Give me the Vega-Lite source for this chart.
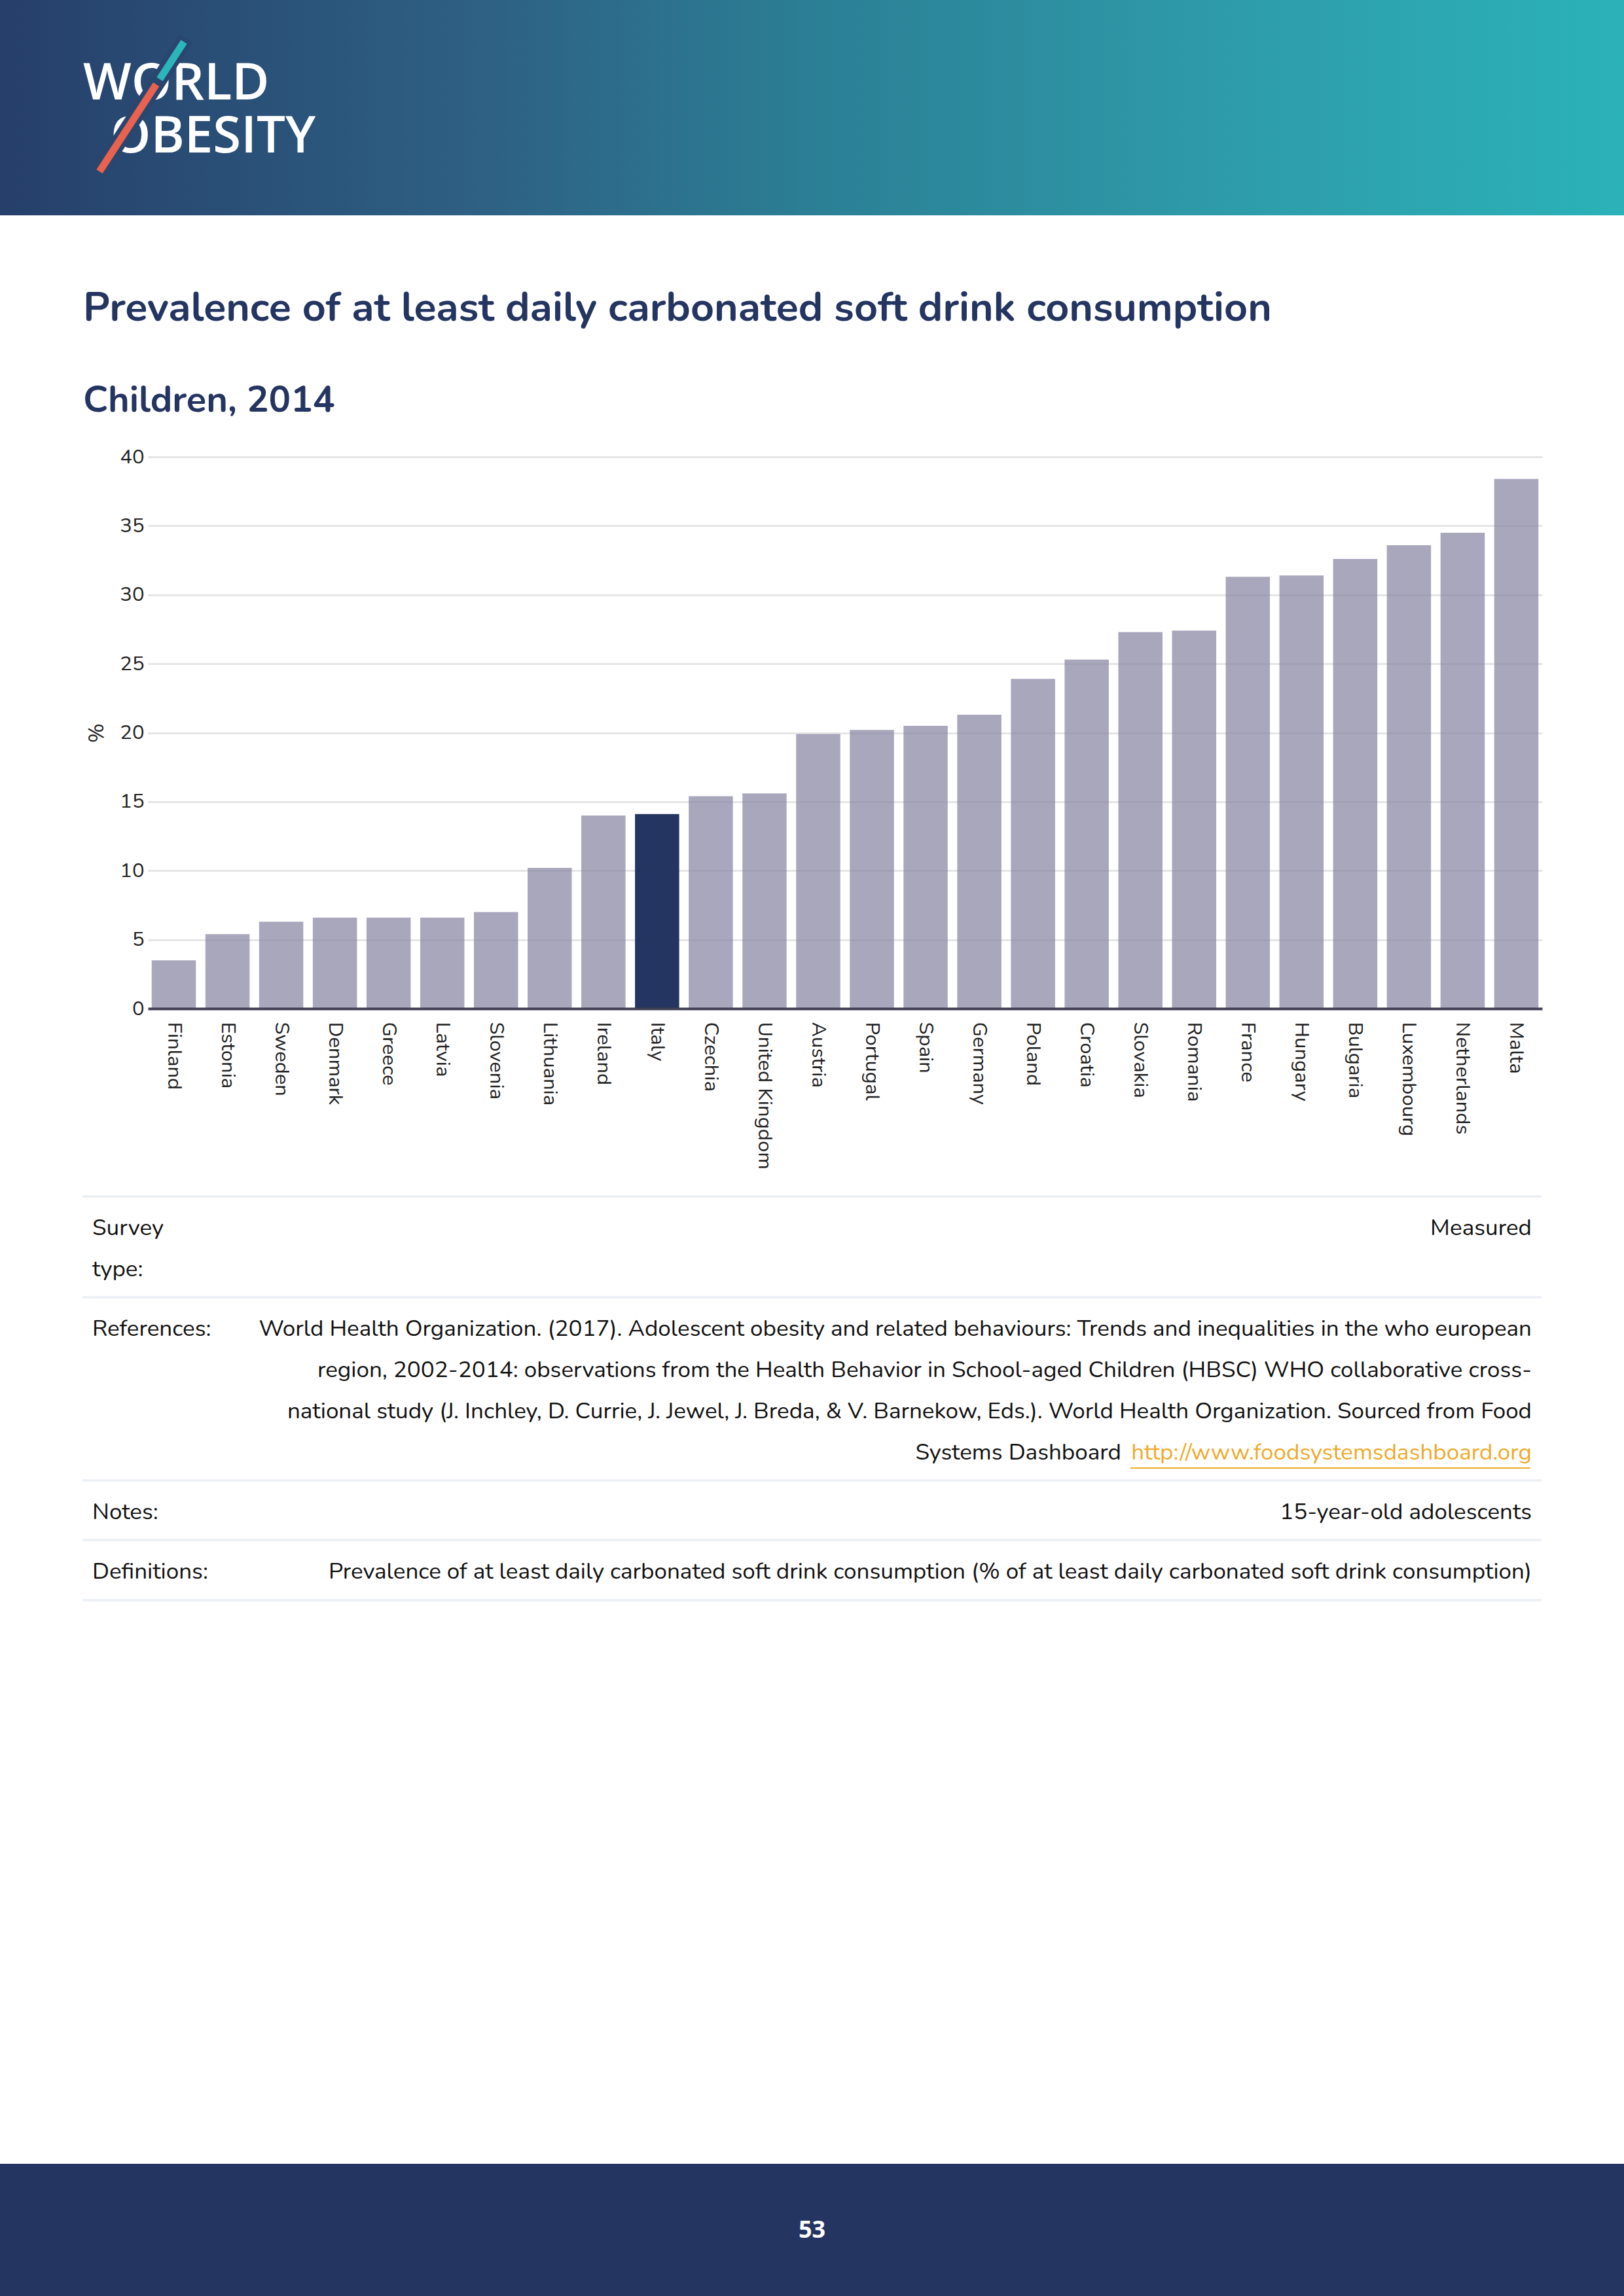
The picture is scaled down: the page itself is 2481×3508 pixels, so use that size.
{
  "$schema": "https://vega.github.io/schema/vega-lite/v6.json",
  "padding": 0,
  "background": "white",
  "spacing": 0,
  "datasets": {
    "bars": [
      {"country": "Finland", "value": 3.5},
      {"country": "Estonia", "value": 5.4},
      {"country": "Sweden", "value": 6.3},
      {"country": "Denmark", "value": 6.6},
      {"country": "Greece", "value": 6.6},
      {"country": "Latvia", "value": 6.6},
      {"country": "Slovenia", "value": 7.0},
      {"country": "Lithuania", "value": 10.2},
      {"country": "Ireland", "value": 14.0},
      {"country": "Italy", "value": 14.1},
      {"country": "Czechia", "value": 15.4},
      {"country": "United Kingdom", "value": 15.6},
      {"country": "Austria", "value": 19.9},
      {"country": "Portugal", "value": 20.2},
      {"country": "Spain", "value": 20.5},
      {"country": "Germany", "value": 21.3},
      {"country": "Poland", "value": 23.9},
      {"country": "Croatia", "value": 25.3},
      {"country": "Slovakia", "value": 27.3},
      {"country": "Romania", "value": 27.4},
      {"country": "France", "value": 31.3},
      {"country": "Hungary", "value": 31.4},
      {"country": "Bulgaria", "value": 32.6},
      {"country": "Luxembourg", "value": 33.6},
      {"country": "Netherlands", "value": 34.5},
      {"country": "Malta", "value": 38.4}
    ],
    "notes": [
      {"section": "survey", "label": ["Survey", "type:"], "value": "Measured"},
      {"section": "refs", "label": "References:", "value": [
        "World Health Organization. (2017). Adolescent obesity and related behaviours: Trends and inequalities in the who european",
        "region, 2002-2014: observations from the Health Behavior in School-aged Children (HBSC) WHO collaborative cross-",
        "national study (J. Inchley, D. Currie, J. Jewel, J. Breda, & V. Barnekow, Eds.). World Health Organization. Sourced from Food"
      ], "prefix": "Systems Dashboard", "link": "http://www.foodsystemsdashboard.org"},
      {"section": "notes", "label": "Notes:", "value": "15-year-old adolescents"},
      {"section": "defs", "label": "Definitions:", "value": "Prevalence of at least daily carbonated soft drink consumption (% of at least daily carbonated soft drink consumption)"}
    ],
    "page": [{"page": "53"}],
    "blank": [{}]
  },
  "vconcat": [
    {
      "width": 2481,
      "height": 329,
      "data": {"name": "blank"},
      "layer": [
        {
          "mark": {"type": "rect", "fill": {"gradient": "linear", "x1": 0, "y1": 0, "x2": 1, "y2": 0, "stops": [
            {"offset": 0, "color": "#263f6b"},
            {"offset": 0.3, "color": "#2e6184"},
            {"offset": 0.5, "color": "#2b7f95"},
            {"offset": 0.75, "color": "#2e9ba9"},
            {"offset": 1, "color": "#2bb2b8"}
          ]}},
          "encoding": {}
        },
        {
          "mark": {"type": "text", "text": "WORLD", "font": "Open Sans", "fontWeight": 600, "fontSize": 78, "color": "white", "align": "left", "baseline": "alphabetic"},
          "encoding": {
            "x": {"datum": 127, "type": "quantitative", "scale": {"domain": [0, 2481], "nice": false, "zero": false}, "axis": null},
            "y": {"datum": 152, "type": "quantitative", "scale": {"domain": [0, 329], "nice": false, "zero": false, "reverse": true}, "axis": null}
          }
        },
        {
          "mark": {"type": "text", "text": "OBESITY", "font": "Open Sans", "fontWeight": 600, "fontSize": 78, "color": "white", "align": "left", "baseline": "alphabetic"},
          "encoding": {
            "x": {"datum": 169, "type": "quantitative"},
            "y": {"datum": 233, "type": "quantitative"}
          }
        },
        {
          "mark": {"type": "rule", "stroke": "#29466f", "strokeWidth": 24},
          "encoding": {
            "x": {"datum": 284, "type": "quantitative"},
            "y": {"datum": 59, "type": "quantitative"},
            "x2": {"datum": 149},
            "y2": {"datum": 267}
          }
        },
        {
          "mark": {"type": "rule", "stroke": "#2cb6ba", "strokeWidth": 11},
          "encoding": {
            "x": {"datum": 281, "type": "quantitative"},
            "y": {"datum": 64, "type": "quantitative"},
            "x2": {"datum": 244},
            "y2": {"datum": 121}
          }
        },
        {
          "mark": {"type": "rule", "stroke": "#e8624f", "strokeWidth": 11},
          "encoding": {
            "x": {"datum": 238.6, "type": "quantitative"},
            "y": {"datum": 129, "type": "quantitative"},
            "x2": {"datum": 152},
            "y2": {"datum": 262}
          }
        }
      ]
    },
    {
      "width": 2481,
      "height": 111,
      "data": {"name": "blank"},
      "mark": {"type": "rect", "opacity": 0},
      "encoding": {}
    },
    {
      "spacing": 0,
      "bounds": "flush",
      "hconcat": [
        {
          "width": 226,
          "height": 843,
          "data": {"name": "blank"},
          "mark": {"type": "rect", "opacity": 0},
          "encoding": {}
        },
        {
          "width": 2130,
          "height": 843,
          "data": {"name": "bars"},
          "title": {
            "text": "Prevalence of at least daily carbonated soft drink consumption",
            "subtitle": "Children, 2014",
            "anchor": "start",
            "frame": "group",
            "dx": -99,
            "offset": 42,
            "font": "Nunito, Lato, sans-serif",
            "subtitleFont": "Nunito, Lato, sans-serif",
            "fontSize": 62.7,
            "subtitleFontSize": 56,
            "fontWeight": "bold",
            "subtitleFontWeight": "bold",
            "color": "#253561",
            "subtitleColor": "#253561",
            "subtitlePadding": 82
          },
          "mark": {"type": "bar"},
          "encoding": {
            "x": {
              "field": "country",
              "type": "nominal",
              "sort": null,
              "scale": {"paddingInner": 0.177, "paddingOuter": 0.07},
              "axis": {
                "title": null,
                "labelAngle": 90,
                "labelAlign": "left",
                "labelBaseline": "middle",
                "labelFontSize": 31,
                "labelColor": "#222222",
                "labelPadding": 20,
                "labelLimit": 500,
                "ticks": false,
                "domainColor": "#403f52",
                "domainWidth": 4,
                "zindex": 1
              }
            },
            "y": {
              "field": "value",
              "type": "quantitative",
              "scale": {"domain": [0, 40], "nice": false},
              "axis": {
                "title": "%",
                "titleFontSize": 32,
                "titleFontWeight": "normal",
                "titleColor": "#222222",
                "titlePadding": 18,
                "labelFontSize": 31,
                "labelColor": "#222222",
                "labelPadding": 6,
                "ticks": false,
                "domain": false,
                "grid": true,
                "gridColor": "#e6e6e6",
                "gridWidth": 3,
                "values": [0, 5, 10, 15, 20, 25, 30, 35, 40],
                "zindex": 0
              }
            },
            "color": {
              "condition": {"test": "datum.country === 'Italy'", "value": "#253561"},
              "value": "#85829e"
            },
            "opacity": {
              "condition": {"test": "datum.country === 'Italy'", "value": 1},
              "value": 0.7
            }
          }
        }
      ]
    },
    {
      "width": 2481,
      "height": 39,
      "data": {"name": "blank"},
      "mark": {"type": "rect", "opacity": 0},
      "encoding": {}
    },
    {
      "spacing": 0,
      "bounds": "flush",
      "hconcat": [
        {
          "width": 126,
          "height": 621,
          "data": {"name": "blank"},
          "mark": {"type": "rect", "opacity": 0},
          "encoding": {}
        },
        {
          "spacing": 0,
          "bounds": "flush",
          "vconcat": [
            {"width": 2229, "height": 4, "data": {"name": "blank"}, "mark": {"type": "rect", "fill": "#edf1f6"}, "encoding": {}},
            {
              "width": 2229,
              "height": 150,
              "data": {"name": "notes"},
              "transform": [{"filter": "datum.section === 'survey'"}],
              "encoding": {"y": {"datum": 1, "type": "quantitative", "scale": {"domain": [0, 1], "nice": false}, "axis": null}},
              "layer": [
                {
                  "mark": {"type": "text", "align": "left", "baseline": "top", "dx": 15, "dy": 29, "fontSize": 35, "lineHeight": 63, "color": "#111111"},
                  "encoding": {"x": {"datum": 0, "type": "quantitative", "scale": {"domain": [0, 1], "nice": false}, "axis": null}, "text": {"field": "label"}}
                },
                {
                  "mark": {"type": "text", "align": "right", "baseline": "top", "dx": -15, "dy": 29, "fontSize": 35, "lineHeight": 63, "color": "#111111"},
                  "encoding": {"x": {"datum": 1, "type": "quantitative"}, "text": {"field": "value"}}
                }
              ]
            },
            {"width": 2229, "height": 4, "data": {"name": "blank"}, "mark": {"type": "rect", "fill": "#edf1f6"}, "encoding": {}},
            {
              "width": 2229,
              "height": 276,
              "data": {"name": "notes"},
              "transform": [{"filter": "datum.section === 'refs'"}],
              "encoding": {"y": {"datum": 1, "type": "quantitative", "scale": {"domain": [0, 1], "nice": false}, "axis": null}},
              "layer": [
                {
                  "mark": {"type": "text", "align": "left", "baseline": "top", "dx": 15, "dy": 29, "fontSize": 35, "lineHeight": 63, "color": "#111111"},
                  "encoding": {"x": {"datum": 0, "type": "quantitative", "scale": {"domain": [0, 1], "nice": false}, "axis": null}, "text": {"field": "label"}}
                },
                {
                  "mark": {"type": "text", "align": "right", "baseline": "top", "dx": -15, "dy": 29, "fontSize": 35, "lineHeight": 63, "color": "#111111"},
                  "encoding": {"x": {"datum": 1, "type": "quantitative"}, "text": {"field": "value"}}
                },
                {
                  "mark": {"type": "text", "align": "right", "baseline": "top", "dx": -642, "dy": 218, "fontSize": 35, "color": "#111111"},
                  "encoding": {"x": {"datum": 1, "type": "quantitative"}, "text": {"field": "prefix"}}
                },
                {
                  "mark": {"type": "text", "align": "right", "baseline": "top", "dx": -15, "dy": 218, "fontSize": 35, "color": "#eeaa2c"},
                  "encoding": {"x": {"datum": 1, "type": "quantitative"}, "text": {"field": "link"}}
                },
                {
                  "mark": {"type": "rule", "color": "#eeaa2c", "strokeWidth": 2, "xOffset": -628, "x2Offset": -17, "yOffset": 259},
                  "encoding": {"x": {"datum": 1, "type": "quantitative"}, "x2": {"datum": 1}}
                }
              ]
            },
            {"width": 2229, "height": 4, "data": {"name": "blank"}, "mark": {"type": "rect", "fill": "#edf1f6"}, "encoding": {}},
            {
              "width": 2229,
              "height": 87,
              "data": {"name": "notes"},
              "transform": [{"filter": "datum.section === 'notes'"}],
              "encoding": {"y": {"datum": 1, "type": "quantitative", "scale": {"domain": [0, 1], "nice": false}, "axis": null}},
              "layer": [
                {
                  "mark": {"type": "text", "align": "left", "baseline": "top", "dx": 15, "dy": 29, "fontSize": 35, "color": "#111111"},
                  "encoding": {"x": {"datum": 0, "type": "quantitative", "scale": {"domain": [0, 1], "nice": false}, "axis": null}, "text": {"field": "label"}}
                },
                {
                  "mark": {"type": "text", "align": "right", "baseline": "top", "dx": -15, "dy": 29, "fontSize": 35, "color": "#111111"},
                  "encoding": {"x": {"datum": 1, "type": "quantitative"}, "text": {"field": "value"}}
                }
              ]
            },
            {"width": 2229, "height": 4, "data": {"name": "blank"}, "mark": {"type": "rect", "fill": "#edf1f6"}, "encoding": {}},
            {
              "width": 2229,
              "height": 88,
              "data": {"name": "notes"},
              "transform": [{"filter": "datum.section === 'defs'"}],
              "encoding": {"y": {"datum": 1, "type": "quantitative", "scale": {"domain": [0, 1], "nice": false}, "axis": null}},
              "layer": [
                {
                  "mark": {"type": "text", "align": "left", "baseline": "top", "dx": 15, "dy": 29, "fontSize": 35, "color": "#111111"},
                  "encoding": {"x": {"datum": 0, "type": "quantitative", "scale": {"domain": [0, 1], "nice": false}, "axis": null}, "text": {"field": "label"}}
                },
                {
                  "mark": {"type": "text", "align": "right", "baseline": "top", "dx": -15, "dy": 29, "fontSize": 35, "color": "#111111"},
                  "encoding": {"x": {"datum": 1, "type": "quantitative"}, "text": {"field": "value"}}
                }
              ]
            },
            {"width": 2229, "height": 4, "data": {"name": "blank"}, "mark": {"type": "rect", "fill": "#edf1f6"}, "encoding": {}}
          ]
        }
      ]
    },
    {
      "width": 2481,
      "height": 859,
      "data": {"name": "blank"},
      "mark": {"type": "rect", "opacity": 0},
      "encoding": {}
    },
    {
      "width": 2481,
      "height": 204,
      "data": {"name": "page"},
      "layer": [
        {"mark": {"type": "rect", "fill": "#253561"}, "encoding": {}},
        {
          "mark": {"type": "text", "color": "white", "fontSize": 36, "fontWeight": "bold", "font": "Open Sans", "baseline": "middle", "align": "center"},
          "encoding": {"text": {"field": "page"}}
        }
      ]
    }
  ],
  "config": {
    "view": {"stroke": null},
    "font": "Nunito, Lato, sans-serif",
    "text": {"font": "Nunito, Lato, sans-serif"}
  }
}
